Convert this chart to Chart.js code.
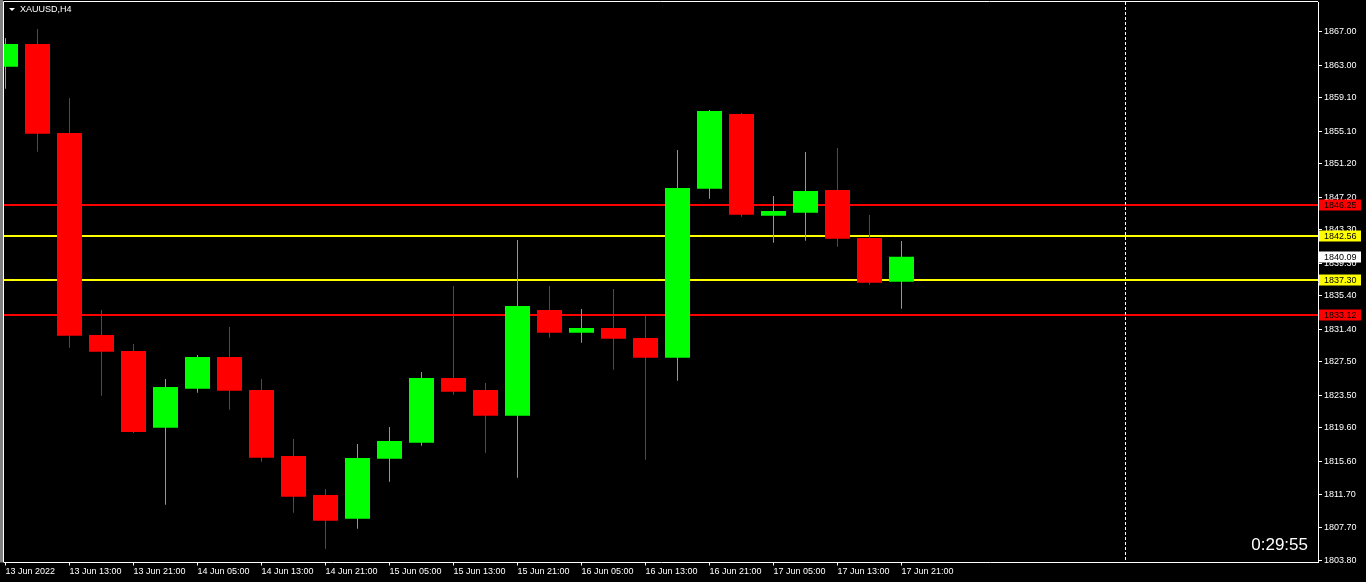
<!DOCTYPE html>
<html><head><meta charset="utf-8">
<script src="https://cdn.jsdelivr.net/npm/chart.js@4"></script>
<style>html,body{margin:0;padding:0;background:#000;}#wrap{width:1366px;height:582px;position:relative;}</style>
</head><body><div id="wrap"><canvas id="c"></canvas></div>
<script>
const symbolTitle = 'XAUUSD,H4';
const categories = [
  '13 Jun 05:00','13 Jun 09:00','13 Jun 13:00','13 Jun 17:00','13 Jun 21:00',
  '14 Jun 01:00','14 Jun 05:00','14 Jun 09:00','14 Jun 13:00','14 Jun 17:00','14 Jun 21:00',
  '15 Jun 01:00','15 Jun 05:00','15 Jun 09:00','15 Jun 13:00','15 Jun 17:00','15 Jun 21:00',
  '16 Jun 01:00','16 Jun 05:00','16 Jun 09:00','16 Jun 13:00','16 Jun 17:00','16 Jun 21:00',
  '17 Jun 01:00','17 Jun 05:00','17 Jun 09:00','17 Jun 13:00','17 Jun 17:00','17 Jun 21:00'
];
const openV  = [1862.81,1865.53,1854.88,1830.72,1828.81,1819.63,1824.30,1828.09,1824.14,1816.25,1811.58,1808.75,1815.92,1817.84,1825.58,1824.14,1821.07,1833.71,1831.00,1831.56,1830.36,1828.00,1848.22,1857.16,1844.99,1845.35,1848.06,1842.32,1837.10];
const highV  = [1866.25,1867.32,1859.07,1833.71,1829.64,1825.46,1828.33,1831.68,1825.46,1818.28,1812.30,1817.68,1819.72,1826.30,1836.58,1824.98,1842.08,1836.58,1833.83,1836.22,1833.11,1852.85,1857.63,1857.27,1847.35,1852.61,1853.09,1845.07,1841.96];
const lowV   = [1860.18,1852.65,1829.20,1823.46,1819.00,1810.42,1823.82,1821.78,1815.56,1809.46,1805.16,1807.55,1813.17,1817.48,1823.58,1816.64,1813.65,1830.40,1829.80,1826.57,1815.80,1825.25,1847.02,1844.87,1841.76,1842.00,1841.28,1836.74,1833.87];
const closeV = [1865.53,1854.80,1830.64,1828.72,1819.12,1824.50,1828.09,1824.06,1816.04,1811.38,1808.51,1816.01,1818.04,1825.58,1823.94,1821.07,1834.19,1831.00,1831.56,1830.28,1828.00,1848.30,1857.51,1845.11,1845.55,1847.94,1842.24,1836.98,1840.09];
const xTickIndex  = [0,2,4,6,8,10,12,14,16,18,20,22,24,26,28];
const xTickLabels = ['13 Jun 2022','13 Jun 13:00','13 Jun 21:00','14 Jun 05:00','14 Jun 13:00','14 Jun 21:00','15 Jun 05:00','15 Jun 13:00','15 Jun 21:00','16 Jun 05:00','16 Jun 13:00','16 Jun 21:00','17 Jun 05:00','17 Jun 13:00','17 Jun 21:00'];
const yTickValues = [1867.00,1863.00,1859.10,1855.10,1851.20,1847.20,1843.30,1839.30,1835.40,1831.40,1827.50,1823.50,1819.60,1815.60,1811.70,1807.70,1803.80];
const levelValues = [1846.25,1842.56,1837.30,1833.12];
const levelColors = ['#ff0000','#ffff00','#ffff00','#ff0000'];
const bidValue = 1840.09;
const futureLineIndex = 35;
const countdownText = '0:29:55';

const UP = '#00ff00', DOWN = '#ff0000';
const FONT = 'Liberation Sans';
const candleColor = (ctx) => closeV[ctx.dataIndex] >= openV[ctx.dataIndex] ? UP : DOWN;

const overlay = {
  id: 'overlay',
  beforeDatasetsDraw(chart) {
    const {ctx, chartArea: a, scales: {x, y}} = chart;
    ctx.save();
    levelValues.forEach((v, i) => {
      const py = Math.round(y.getPixelForValue(v));
      ctx.strokeStyle = levelColors[i];
      ctx.lineWidth = 2;
      ctx.beginPath(); ctx.moveTo(a.left, py); ctx.lineTo(a.right, py); ctx.stroke();
    });
    const px = Math.floor(x.getPixelForValue(futureLineIndex)) + 0.5;
    ctx.strokeStyle = '#ffffff'; ctx.lineWidth = 1; ctx.setLineDash([3, 2]);
    ctx.beginPath(); ctx.moveTo(px, a.top); ctx.lineTo(px, a.bottom); ctx.stroke();
    ctx.restore();
  },
  afterDraw(chart) {
    const {ctx, chartArea: a, scales: {y}} = chart;
    ctx.save();
    ctx.strokeStyle = '#ffffff'; ctx.lineWidth = 1;
    ctx.beginPath();
    ctx.moveTo(a.left - 0.5, a.bottom); ctx.lineTo(a.left - 0.5, a.top - 0.5); ctx.lineTo(a.right, a.top - 0.5);
    ctx.stroke();
    ctx.fillStyle = '#808080'; ctx.fillRect(0, 0, a.left - 1, a.bottom);
    ctx.font = '9px "' + FONT + '"';
    ctx.textBaseline = 'middle'; ctx.textAlign = 'left';
    const tag = (v, bg) => {
      const py = Math.round(y.getPixelForValue(v));
      ctx.fillStyle = bg; ctx.fillRect(a.right + 1, py - 5.5, 42, 11);
      ctx.fillStyle = '#000000'; ctx.fillText(v.toFixed(2), a.right + 6, py + 0.5);
    };
    levelValues.forEach((v, i) => tag(v, levelColors[i]));
    tag(bidValue, '#ffffff');
    ctx.fillStyle = '#ffffff';
    ctx.beginPath(); ctx.moveTo(9, 8); ctx.lineTo(15, 8); ctx.lineTo(12, 11); ctx.closePath(); ctx.fill();
    ctx.fillText(symbolTitle, 20, 9.5);
    ctx.font = '17px "' + FONT + '"';
    ctx.textAlign = 'right'; ctx.textBaseline = 'alphabetic';
    ctx.fillText(countdownText, a.right - 10, a.bottom - 13);
    ctx.restore();
  }
};

new Chart(document.getElementById('c'), {
  type: 'bar',
  data: {
    labels: categories,
    datasets: [
      { label: 'body', data: categories.map((c, i) => ({x: i, y: [openV[i], closeV[i]]})),
        backgroundColor: candleColor, borderWidth: 0, barThickness: 25, grouped: false, inflateAmount: 0 },
      { label: 'wick', data: categories.map((c, i) => ({x: i, y: [lowV[i], highV[i]]})),
        backgroundColor: candleColor, borderWidth: 0, barThickness: 1, grouped: false, inflateAmount: 0 }
    ]
  },
  options: {
    responsive: true, maintainAspectRatio: false, animation: false, devicePixelRatio: 1,
    layout: { padding: { top: 2, left: 4, right: 0, bottom: 0 } },
    plugins: { legend: { display: false }, tooltip: { enabled: false } },
    scales: {
      x: {
        type: 'linear', min: -0.047, max: 41.016, offset: false,
        afterBuildTicks: s => { s.ticks = xTickIndex.map(v => ({value: v})); },
        afterFit: s => { s.height = 19.5; s.paddingLeft = 0; s.paddingRight = 0; },
        grid: { drawOnChartArea: false, drawTicks: true, tickLength: 3, color: '#ffffff', offset: false },
        border: { display: true, color: '#ffffff' },
        ticks: { autoSkip: false, maxRotation: 0, minRotation: 0, align: 'start', padding: 1, color: '#ffffff',
          font: { family: FONT, size: 9 },
          callback: v => { const k = xTickIndex.indexOf(v); return k >= 0 ? xTickLabels[k] : ''; } }
      },
      y: {
        position: 'right', min: 1803.51, max: 1870.55,
        afterBuildTicks: s => { s.ticks = yTickValues.map(v => ({value: v})); },
        afterFit: s => { s.width = 48; s.paddingTop = 0; s.paddingBottom = 0; },
        grid: { drawOnChartArea: false, drawTicks: true, tickLength: 4, color: '#ffffff' },
        border: { display: true, color: '#ffffff' },
        ticks: { padding: 2, color: '#ffffff', font: { family: FONT, size: 9 }, callback: v => Number(v).toFixed(2) }
      }
    }
  },
  plugins: [overlay]
});
</script></body></html>
